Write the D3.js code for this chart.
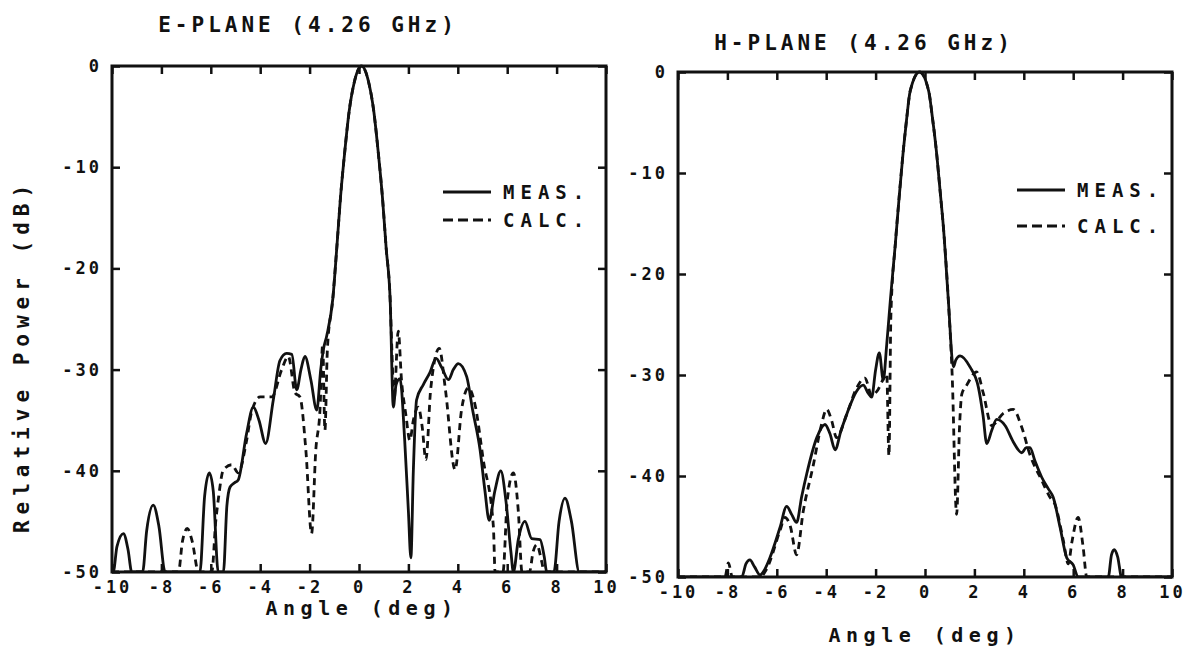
<!DOCTYPE html>
<html>
<head>
<meta charset="utf-8">
<script src="https://cdn.jsdelivr.net/npm/d3@7"></script>
<style>
  body { margin: 0; background: #fff; }
  text { font-family: "DejaVu Sans Mono", monospace; font-weight: bold; fill: #111; }
</style>
</head>
<body>
<svg id="chart" width="1193" height="648"></svg>
<script>
// angle (deg), relative power (dB) pairs
const ePlaneMeas = [
  [-10,-50],[-9.95,-50],[-9.8,-47.5],[-9.54,-46.2],[-9.35,-47.8],[-9.2,-50],[-8.76,-50],[-8.6,-46],
  [-8.33,-43.4],[-8.1,-45.5],[-7.85,-50],[-6.44,-50],[-6.25,-42.5],[-6.06,-40.2],[-5.9,-42],[-5.7,-50],
  [-5.49,-50],[-5.35,-43.5],[-5.22,-41.6],[-5.05,-41.2],[-4.89,-40.9],[-4.55,-36.3],[-4.28,-33.7],
  [-4.05,-35],[-3.78,-37.3],[-3.47,-33],[-3.2,-29.1],[-2.93,-28.4],[-2.72,-28.5],[-2.52,-32],
  [-2.35,-30],[-2.19,-28.7],[-1.95,-31],[-1.71,-34],[-1.55,-30],[-1.44,-28],[-1.31,-26.7],
  [-1.06,-23],[-0.9,-18],[-0.75,-13],[-0.57,-8.3],[-0.4,-4.5],[-0.2,-1.7],[0.1,0],[0.4,-1.7],
  [0.6,-4.5],[0.77,-8.3],[0.95,-13],[1.1,-18],[1.26,-23],[1.39,-33.7],[1.5,-31.5],[1.66,-30.9],
  [1.85,-37],[2.0,-44],[2.1,-48.6],[2.2,-40],[2.33,-33],[2.6,-31.5],[2.87,-30.3],[3.12,-28.9],
  [3.35,-29.8],[3.62,-31],[3.82,-30],[4.02,-29.4],[4.36,-30.7],[4.6,-34],[4.9,-37.9],[5.1,-42],
  [5.27,-44.9],[5.5,-42],[5.74,-40],[5.95,-43],[6.15,-48],[6.25,-50],[6.45,-46.8],[6.72,-45],
  [6.99,-46.7],[7.33,-46.8],[7.5,-48.5],[7.6,-50],[7.89,-50],[8.1,-45],[8.34,-42.7],[8.6,-45],
  [8.92,-50],[10,-50]
];
const ePlaneCalc = [
  [-10,-50],[-7.31,-50],[-7.15,-47],[-6.95,-45.7],[-6.75,-47],[-6.5,-50],[-5.96,-50],[-5.8,-45],
  [-5.7,-42.9],[-5.49,-39.9],[-5.15,-39.4],[-4.89,-40.2],[-4.55,-37],[-4.35,-34.2],[-4.0,-32.7],
  [-3.53,-32.7],[-3.13,-30],[-2.86,-28.7],[-2.59,-32.3],[-2.39,-32.7],[-2.15,-38],[-1.92,-46.2],
  [-1.75,-38],[-1.58,-34],[-1.47,-27.5],[-1.38,-36],[-1.28,-28],[-1.06,-23],[-0.9,-18],[-0.75,-13],
  [-0.57,-8.3],[-0.4,-4.5],[-0.2,-1.7],[0.1,0],[0.4,-1.7],[0.6,-4.5],[0.77,-8.3],[0.95,-13],
  [1.1,-18],[1.26,-23],[1.33,-28],[1.42,-33],[1.59,-26.2],[1.72,-31],[1.9,-34.5],[2.06,-37],
  [2.2,-35],[2.4,-33.7],[2.55,-35.5],[2.71,-38.9],[2.9,-32],[3.25,-27.9],[3.5,-32],[3.89,-39.9],
  [4.15,-34],[4.43,-31.8],[4.7,-33.5],[5.03,-38.9],[5.44,-45.5],[5.51,-50],[5.83,-50],[6.0,-43],
  [6.25,-40.2],[6.45,-44],[6.6,-50],[6.9,-50],[7.05,-48],[7.2,-47.3],[7.4,-49],[7.5,-50],[10,-50]
];
const hPlaneMeas = [
  [-10,-50],[-7.42,-50],[-7.25,-48.7],[-7.09,-48.3],[-6.9,-49],[-6.68,-49.8],[-6.5,-49.3],
  [-6.28,-48.1],[-5.87,-45.1],[-5.6,-43],[-5.4,-43.8],[-5.2,-44.6],[-4.99,-42],[-4.79,-39.8],
  [-4.38,-36.2],[-4.05,-34.9],[-3.85,-35.8],[-3.64,-37.4],[-3.4,-35.5],[-3.17,-33.9],[-2.77,-31.6],
  [-2.5,-31],[-2.3,-31.8],[-2.16,-32.2],[-2.0,-29.5],[-1.85,-27.8],[-1.69,-30.5],[-1.55,-27],
  [-1.4,-22.5],[-1.2,-17],[-1.05,-12.5],[-0.88,-7.8],[-0.75,-4.8],[-0.6,-1.9],[-0.22,0],[0.15,-1.9],
  [0.3,-4.5],[0.46,-7.8],[0.62,-12],[0.75,-15.5],[0.94,-22.4],[1.15,-29.2],[1.25,-28.5],[1.42,-28.1],
  [1.82,-29.2],[2.16,-31.2],[2.35,-34],[2.5,-36.8],[2.7,-35.5],[2.9,-34.4],[3.24,-35],[3.57,-36.6],
  [3.92,-37.7],[4.1,-37.2],[4.25,-37.2],[4.45,-38.5],[4.72,-40.1],[5.0,-41.3],[5.19,-42.1],
  [5.47,-45.1],[5.74,-48.1],[6.0,-48.8],[6.2,-50],[7.42,-50],[7.55,-47.8],[7.66,-47.3],[7.8,-48],
  [7.96,-50],[10,-50]
];
const hPlaneCalc = [
  [-10,-50],[-8.1,-50],[-7.96,-48.6],[-7.8,-50],[-6.68,-50],[-6.41,-49.2],[-5.87,-45.4],[-5.67,-44.1],
  [-5.45,-45],[-5.2,-47.8],[-4.93,-43.5],[-4.52,-38.9],[-4.2,-35],[-3.98,-33.4],[-3.78,-34.5],
  [-3.58,-36.2],[-3.17,-33.9],[-2.77,-31.3],[-2.43,-30.3],[-2.16,-32],[-1.89,-31.4],[-1.69,-30.4],
  [-1.55,-29.9],[-1.46,-38],[-1.38,-24],[-1.2,-17],[-1.05,-12.5],[-0.88,-7.8],[-0.75,-4.8],
  [-0.6,-1.9],[-0.22,0],[0.15,-1.9],[0.3,-4.5],[0.46,-7.8],[0.62,-12],[0.75,-15.5],[0.94,-22.4],
  [1.1,-30],[1.28,-43.8],[1.4,-35],[1.49,-31.9],[1.69,-31],[2.09,-29.7],[2.36,-31.8],[2.7,-35],
  [3.17,-33.8],[3.57,-33.4],[3.92,-35.2],[4.25,-37.9],[4.72,-40.4],[5.06,-42.1],[5.26,-42.8],
  [5.6,-46.4],[5.8,-48.7],[5.95,-46.5],[6.2,-44.1],[6.4,-47],[6.55,-50],[10,-50]
];

const xTicks = [-10, -8, -6, -4, -2, 0, 2, 4, 6, 8, 10];
const yTicks = [0, -10, -20, -30, -40, -50];
const legendLabels = ["MEAS.", "CALC."];
const titles = ["E-PLANE  (4.26 GHz)", "H-PLANE  (4.26 GHz)"];

const svg = d3.select('#chart');

// where each panel sits on the page
const panels = [
  { title: titles[0], meas: ePlaneMeas, calc: ePlaneCalc,
    x0: 112, x1: 606, y0: 66, y1: 572, titleX: 308, titleY: 25,
    labelX: 362, labelY: 615, legX: 443, legY: [192, 220] },
  { title: titles[1], meas: hPlaneMeas, calc: hPlaneCalc,
    x0: 678, x1: 1172, y0: 72, y1: 577, titleX: 864, titleY: 43,
    labelX: 925, labelY: 642, legX: 1017, legY: [190, 226] }
];

const fmt = d => String(d).replace('\u2212', '-');

panels.forEach((p, i) => {
  const x = d3.scaleLinear().domain([-10, 10]).range([p.x0, p.x1]);
  const y = d3.scaleLinear().domain([-50, 0]).range([p.y1, p.y0]);

  const g = svg.append('g');

  g.append('clipPath').attr('id', 'clip' + i)
    .append('rect')
    .attr('x', p.x0).attr('y', p.y0 - 2)
    .attr('width', p.x1 - p.x0).attr('height', p.y1 - p.y0 + 2);

  const line = d3.line()
    .x(d => x(d[0]))
    .y(d => y(d[1]))
    .curve(d3.curveMonotoneX);

  g.append('path')
    .datum(p.calc)
    .attr('clip-path', `url(#clip${i})`)
    .attr('d', line)
    .attr('fill', 'none')
    .attr('stroke', '#111')
    .attr('stroke-width', 2.8)
    .attr('stroke-dasharray', '7,5');

  g.append('path')
    .datum(p.meas)
    .attr('clip-path', `url(#clip${i})`)
    .attr('d', line)
    .attr('fill', 'none')
    .attr('stroke', '#111')
    .attr('stroke-width', 2.8);

  // axes, ticks pointing inward on all four sides
  const bottom = g.append('g').attr('transform', `translate(0,${p.y1})`)
    .call(d3.axisBottom(x).tickValues(xTicks).tickSize(-8).tickPadding(9).tickFormat(fmt));
  const top = g.append('g').attr('transform', `translate(0,${p.y0})`)
    .call(d3.axisTop(x).tickValues(xTicks).tickSize(-8).tickFormat(''));
  const left = g.append('g').attr('transform', `translate(${p.x0},0)`)
    .call(d3.axisLeft(y).tickValues(yTicks).tickSize(-8).tickPadding(10).tickFormat(fmt));
  const right = g.append('g').attr('transform', `translate(${p.x1},0)`)
    .call(d3.axisRight(y).tickValues(yTicks).tickSize(-8).tickFormat(''));

  [bottom, top, left, right].forEach(a => {
    a.select('.domain').remove();
    a.selectAll('line').attr('stroke', '#111').attr('stroke-width', 2.5);
    a.selectAll('text')
      .style('font-family', '"DejaVu Sans Mono", monospace')
      .style('font-weight', 'bold')
      .style('font-size', '17px')
      .style('letter-spacing', '3px')
      .attr('fill', '#111');
  });

  g.append('rect')
    .attr('x', p.x0).attr('y', p.y0)
    .attr('width', p.x1 - p.x0).attr('height', p.y1 - p.y0)
    .attr('fill', 'none')
    .attr('stroke', '#111')
    .attr('stroke-width', 3);

  g.append('text')
    .attr('x', p.titleX).attr('y', p.titleY)
    .attr('text-anchor', 'middle')
    .attr('dominant-baseline', 'central')
    .style('font-size', '21px')
    .style('letter-spacing', '4px')
    .text(p.title);

  g.append('text')
    .attr('x', p.labelX).attr('y', p.labelY)
    .attr('text-anchor', 'middle')
    .style('font-size', '20px')
    .style('letter-spacing', '5.5px')
    .text('Angle  (deg)');

  // legend
  legendLabels.forEach((lab, k) => {
    g.append('line')
      .attr('x1', p.legX).attr('x2', p.legX + 48)
      .attr('y1', p.legY[k]).attr('y2', p.legY[k])
      .attr('stroke', '#111')
      .attr('stroke-width', 2.8)
      .attr('stroke-dasharray', k === 0 ? null : '10,5');
    g.append('text')
      .attr('x', p.legX + 60).attr('y', p.legY[k])
      .attr('dominant-baseline', 'central')
      .style('font-size', '19px')
      .style('letter-spacing', '6px')
      .text(lab);
  });
});

svg.append('text')
  .attr('transform', 'translate(22,356) rotate(-90)')
  .attr('text-anchor', 'middle')
  .attr('dominant-baseline', 'central')
  .style('font-size', '21px')
  .style('letter-spacing', '6px')
  .text('Relative Power  (dB)');
</script>
</body>
</html>
